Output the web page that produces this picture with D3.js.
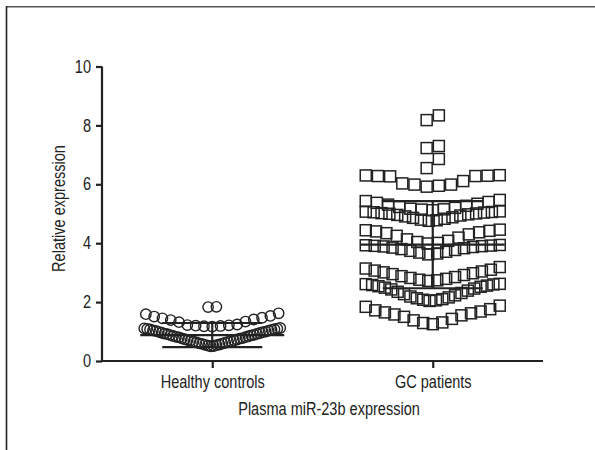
<!DOCTYPE html>
<html><head><meta charset="utf-8">
<script src="https://cdn.jsdelivr.net/npm/d3@7"></script>
<style>html,body{margin:0;padding:0;background:#fff;} svg{display:block;}</style>
</head><body>
<svg id="chart" width="595" height="450"></svg>
<script>
// ---------- data ----------
const categories = ["Healthy controls", "GC patients"];

const controlValues = [
  0.50, 0.51, 0.52, 0.54, 0.55, 0.56, 0.58, 0.59, 0.60, 0.62,
  0.63, 0.65, 0.66, 0.67, 0.69, 0.70, 0.71, 0.73, 0.74, 0.76,
  0.77, 0.78, 0.80, 0.81, 0.82, 0.84, 0.85, 0.87, 0.88, 0.89,
  0.91, 0.92, 0.93, 0.95, 0.96, 0.98, 0.99, 1.00, 1.02, 1.03,
  1.04, 1.06, 1.07, 1.08, 1.09, 1.10, 1.11, 1.12,
  1.17, 1.18, 1.19, 1.20, 1.21, 1.22, 1.24, 1.32, 1.34, 1.39,
  1.41, 1.45, 1.47, 1.51, 1.53, 1.59, 1.62,
  1.83, 1.84
];
const controlBinThresholds = [1.15, 1.75];

const gcValues = [
  1.25, 1.29, 1.31, 1.38, 1.43, 1.50, 1.55, 1.58, 1.62, 1.65, 1.68, 1.72, 1.76, 1.84, 1.88,
  2.04, 2.06, 2.08, 2.10, 2.13, 2.16, 2.19, 2.23, 2.27, 2.31, 2.35, 2.39, 2.43, 2.46, 2.49,
  2.52, 2.54, 2.56, 2.58, 2.60, 2.61, 2.62,
  2.72, 2.74, 2.76, 2.79, 2.82, 2.85, 2.88, 2.92, 2.95, 2.98, 3.01, 3.04, 3.07, 3.10, 3.14, 3.19,
  3.62, 3.65, 3.68, 3.71, 3.74, 3.77, 3.80, 3.83, 3.85, 3.87, 3.89, 3.90, 3.91, 3.92, 3.93, 3.94,
  3.99, 4.01, 4.04, 4.08, 4.13, 4.19, 4.25, 4.30, 4.34, 4.37, 4.40, 4.42, 4.44, 4.46,
  4.76, 4.78, 4.80, 4.83, 4.86, 4.88, 4.91, 4.94, 4.96, 4.98, 5.00, 5.01, 5.02, 5.04, 5.05, 5.06, 5.07, 5.08,
  5.12, 5.14, 5.15, 5.17, 5.20, 5.23, 5.27, 5.31, 5.34, 5.37, 5.40, 5.43, 5.47,
  5.92, 5.95, 5.99, 5.99, 6.03, 6.11, 6.27, 6.28, 6.28, 6.29, 6.30, 6.31,
  6.55, 6.86,
  7.23, 7.30,
  8.18, 8.34
];
const gcBinThresholds = [1.95, 2.66, 3.3, 3.97, 4.6, 5.10, 5.7, 6.45, 7.0, 7.8];

const groupMeans = [0.88, 3.95];
const groupSDs = [0.41, 1.48];

const yTicks = [0, 2, 4, 6, 8, 10];
const xTitle = "Plasma miR-23b expression";
const yTitle = "Relative expression";

// ---------- drawing ----------
const FONT = "'Liberation Sans', Arial, sans-serif";
const FONT_SIZE = "17.5px";
const CONDENSE = 0.83;
const INK = "#222";
const svg = d3.select("#chart");

// frame lines (top and left)
svg.append("line").attr("x1", 6.5).attr("x2", 595).attr("y1", 6.8).attr("y2", 6.8)
  .attr("stroke", "#555").attr("stroke-width", 1.6);
svg.append("line").attr("x1", 6.5).attr("x2", 6.5).attr("y1", 6).attr("y2", 450)
  .attr("stroke", "#222").attr("stroke-width", 1.6);

const x = d3.scalePoint().domain(categories).range([102, 543]).padding(0.5);
const y = d3.scaleLinear().domain([0, 10]).range([361, 66.5]);

// axes
const gy = svg.append("g").attr("transform", "translate(102,0)")
  .call(d3.axisLeft(y).tickValues(yTicks).tickSize(6).tickSizeOuter(0).tickPadding(5).tickFormat(d3.format("d")));
const gx = svg.append("g").attr("transform", "translate(0,361)")
  .call(d3.axisBottom(x).tickSize(7).tickSizeOuter(0).tickPadding(8));
[gx, gy].forEach(g => {
  g.select(".domain").attr("stroke", INK).attr("stroke-width", 2.2);
  g.selectAll(".tick line").attr("stroke", INK).attr("stroke-width", 2.2);
  g.selectAll("text").attr("fill", INK).style("font-family", FONT).style("font-size", FONT_SIZE);
});
gx.select(".domain").attr("d", "M101,0H543");
gy.select(".domain").attr("d", "M0,66.5V362");

// layout: bin values, spread each bin horizontally, lowest values at the centre
function layout(values, thresholds, spacing, maxWidth) {
  const bins = d3.bin().domain([0, 10]).thresholds(thresholds)(values);
  const pts = [];
  bins.forEach(b => {
    const sorted = b.slice().sort(d3.ascending);
    const n = sorted.length;
    if (!n) return;
    const s = n > 1 ? Math.min(spacing, maxWidth / (n - 1)) : 0;
    const slots = d3.range(n).map(i => i - (n - 1) / 2)
      .sort((a, b) => Math.abs(a) - Math.abs(b) || a - b);
    sorted.forEach((v, i) => pts.push({ v, dx: slots[i] * s }));
  });
  return pts;
}

const ctrlPts = layout(controlValues, controlBinThresholds, 8.3, 136);
const gcPts = layout(gcValues, gcBinThresholds, 12.2, 134);

const cx0 = x(categories[0]), cx1 = x(categories[1]);

svg.append("g").selectAll("circle").data(ctrlPts).join("circle")
  .attr("cx", d => cx0 + d.dx).attr("cy", d => y(d.v)).attr("r", 5.2)
  .attr("fill", "none").attr("stroke", INK).attr("stroke-width", 1.4);

const side = 11;
svg.append("g").selectAll("rect").data(gcPts).join("rect")
  .attr("x", d => cx1 + d.dx - side / 2).attr("y", d => y(d.v) - side / 2)
  .attr("width", side).attr("height", side)
  .attr("fill", "none").attr("stroke", INK).attr("stroke-width", 1.5);

// mean and SD
const meanHalf = 72, capHalf = 50;
const summ = svg.append("g").attr("stroke", INK).attr("stroke-width", 2.2);
categories.forEach((c, i) => {
  const cx = x(c), m = groupMeans[i], sd = groupSDs[i];
  summ.append("line").attr("x1", cx - meanHalf).attr("x2", cx + meanHalf).attr("y1", y(m)).attr("y2", y(m));
  summ.append("line").attr("x1", cx).attr("x2", cx).attr("y1", y(m - sd)).attr("y2", y(m + sd));
  summ.append("line").attr("x1", cx - capHalf).attr("x2", cx + capHalf).attr("y1", y(m + sd)).attr("y2", y(m + sd));
  summ.append("line").attr("x1", cx - capHalf).attr("x2", cx + capHalf).attr("y1", y(m - sd)).attr("y2", y(m - sd));
});

// titles
svg.append("text").attr("x", 329).attr("y", 414.5).attr("text-anchor", "middle")
  .attr("fill", INK).style("font-family", FONT).style("font-size", FONT_SIZE).text(xTitle);
svg.append("text").attr("transform", "translate(65,208.5) rotate(-90)").attr("text-anchor", "middle")
  .attr("fill", INK).style("font-family", FONT).style("font-size", FONT_SIZE).text(yTitle);

// narrow the type to match the condensed face of the original
svg.selectAll("text").each(function () {
  const w = this.getComputedTextLength();
  d3.select(this).attr("textLength", (w * CONDENSE).toFixed(1)).attr("lengthAdjust", "spacingAndGlyphs");
});
</script>
</body></html>
